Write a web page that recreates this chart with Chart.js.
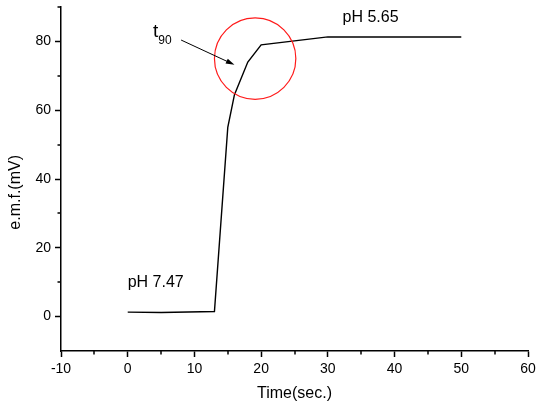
<!DOCTYPE html>
<html>
<head>
<meta charset="utf-8">
<script src="https://cdn.jsdelivr.net/npm/chart.js@4"></script>
<style>
  html, body { margin: 0; padding: 0; background: #fff; }
  #wrap { width: 536px; height: 407px; }
</style>
</head>
<body>
<div id="wrap"><canvas id="chartEmf"></canvas></div>
<script>
/* ====== DATA ====== */
const times = [0, 5, 13, 15, 16, 18, 20, 30, 50];          // sec.
const emf = [1.3, 1.2, 1.5, 55, 64.5, 74, 79, 81.3, 81.3];  // mV

const xTitle = "Time(sec.)";
const yTitle = "e.m.f.(mV)";

// annotations (data coordinates)
const lowLabel = { text: "pH 7.47", x: 0, y: 8.7 };
const highLabel = { text: "pH 5.65", x: 32.2, y: 85.7 };
const t90Label = { x: 3.8, y: 81.3, sub: "90" };
const t90Arrow = { from: [8.0, 80.4], to: [16.0, 73.2] };
const circle = { x: 19.1, y: 75.0, r: 6.1 };   // r in x units

const FONT = "Arial, 'Liberation Sans', sans-serif";

/* ====== MINOR TICKS + ANNOTATIONS ====== */
const extras = {
    id: "extras",
    afterDatasetsDraw(chart) {
        const { ctx, scales: { x, y } } = chart;
        ctx.save();

        // minor ticks
        ctx.strokeStyle = "#000";
        ctx.lineWidth = 1.5;
        ctx.beginPath();
        for (let v = -5; v < 60; v += 10) {
            const px = Math.round(x.getPixelForValue(v));
            ctx.moveTo(px, y.bottom);
            ctx.lineTo(px, y.bottom + 3.5);
        }
        for (let v = 10; v <= 90; v += 20) {
            const py = Math.round(y.getPixelForValue(v));
            ctx.moveTo(x.left, py);
            ctx.lineTo(x.left - 3.5, py);
        }
        ctx.stroke();

        // red circle
        const cx = x.getPixelForValue(circle.x);
        const cy = y.getPixelForValue(circle.y);
        const r = x.getPixelForValue(circle.x + circle.r) - cx;
        ctx.strokeStyle = "#ff1a1a";
        ctx.lineWidth = 1.2;
        ctx.beginPath();
        ctx.arc(cx, cy, r, 0, Math.PI * 2);
        ctx.stroke();

        // arrow
        const x1 = x.getPixelForValue(t90Arrow.from[0]), y1 = y.getPixelForValue(t90Arrow.from[1]);
        const x2 = x.getPixelForValue(t90Arrow.to[0]), y2 = y.getPixelForValue(t90Arrow.to[1]);
        const ang = Math.atan2(y2 - y1, x2 - x1);
        ctx.strokeStyle = "#000";
        ctx.fillStyle = "#000";
        ctx.lineWidth = 1;
        ctx.beginPath();
        ctx.moveTo(x1, y1);
        ctx.lineTo(x2 - 6 * Math.cos(ang), y2 - 6 * Math.sin(ang));
        ctx.stroke();
        ctx.beginPath();
        ctx.moveTo(x2, y2);
        ctx.lineTo(x2 - 9 * Math.cos(ang - 0.3), y2 - 9 * Math.sin(ang - 0.3));
        ctx.lineTo(x2 - 9 * Math.cos(ang + 0.3), y2 - 9 * Math.sin(ang + 0.3));
        ctx.closePath();
        ctx.fill();

        // texts
        ctx.textBaseline = "alphabetic";
        ctx.textAlign = "left";
        ctx.font = "16px " + FONT;
        ctx.fillText(lowLabel.text, x.getPixelForValue(lowLabel.x), y.getPixelForValue(lowLabel.y));
        ctx.fillText(highLabel.text, x.getPixelForValue(highLabel.x), y.getPixelForValue(highLabel.y));

        const tx = x.getPixelForValue(t90Label.x), ty = y.getPixelForValue(t90Label.y);
        ctx.font = "19px " + FONT;
        ctx.fillText("t", tx, ty);
        const tw = ctx.measureText("t").width;
        ctx.font = "12px " + FONT;
        ctx.fillText(t90Label.sub, tx + tw, ty + 7);

        ctx.restore();
    }
};

/* ====== CHART ====== */
new Chart(document.getElementById("chartEmf"), {
    type: "scatter",
    data: {
        datasets: [{
            data: times.map((t, i) => ({ x: t, y: emf[i] })),
            showLine: true,
            borderColor: "#000",
            borderWidth: 1.4,
            pointRadius: 0,
            tension: 0
        }]
    },
    options: {
        responsive: true,
        maintainAspectRatio: false,
        animation: false,
        layout: { padding: { top: 7, right: 8, bottom: 0, left: 0 } },
        plugins: { legend: { display: false }, tooltip: { enabled: false } },
        scales: {
            x: {
                type: "linear",
                min: -10, max: 60,
                afterFit: s => { s.height = 56; s.paddingLeft = 0; s.paddingRight = 0; },
                border: { display: true, color: "#000", width: 1.5 },
                grid: {
                    drawOnChartArea: false,
                    drawTicks: true,
                    tickLength: 6,
                    tickWidth: 1.5,
                    tickColor: c => (c.tick && c.tick.value % 10 === 0) ? "#000" : "rgba(0,0,0,0)"
                },
                ticks: {
                    stepSize: 5,
                    padding: 4,
                    color: "#000",
                    maxRotation: 0,
                    font: { family: FONT, size: 14 },
                    callback: v => (v % 10 === 0 ? v : "")
                },
                title: {
                    display: true,
                    text: xTitle,
                    color: "#000",
                    font: { family: FONT, size: 16 },
                    padding: { top: 0, bottom: 4 }
                }
            },
            y: {
                min: -10, max: 90,
                afterFit: s => { s.width = 61; s.paddingTop = 0; s.paddingBottom = 0; },
                border: { display: true, color: "#000", width: 1.5 },
                grid: {
                    drawOnChartArea: false,
                    drawTicks: true,
                    tickLength: 6,
                    tickWidth: 1.5,
                    tickColor: c => (c.tick && c.tick.value % 20 === 0 && c.tick.value >= 0) ? "#000" : "rgba(0,0,0,0)"
                },
                ticks: {
                    stepSize: 10,
                    padding: 4,
                    color: "#000",
                    font: { family: FONT, size: 14 },
                    callback: v => (v % 20 === 0 && v >= 0 ? v : "")
                },
                title: {
                    display: true,
                    text: yTitle + "      ",
                    color: "#000",
                    font: { family: FONT, size: 16 },
                    padding: { top: 6, bottom: 0 }
                }
            }
        }
    },
    plugins: [extras]
});
</script>
</body>
</html>
